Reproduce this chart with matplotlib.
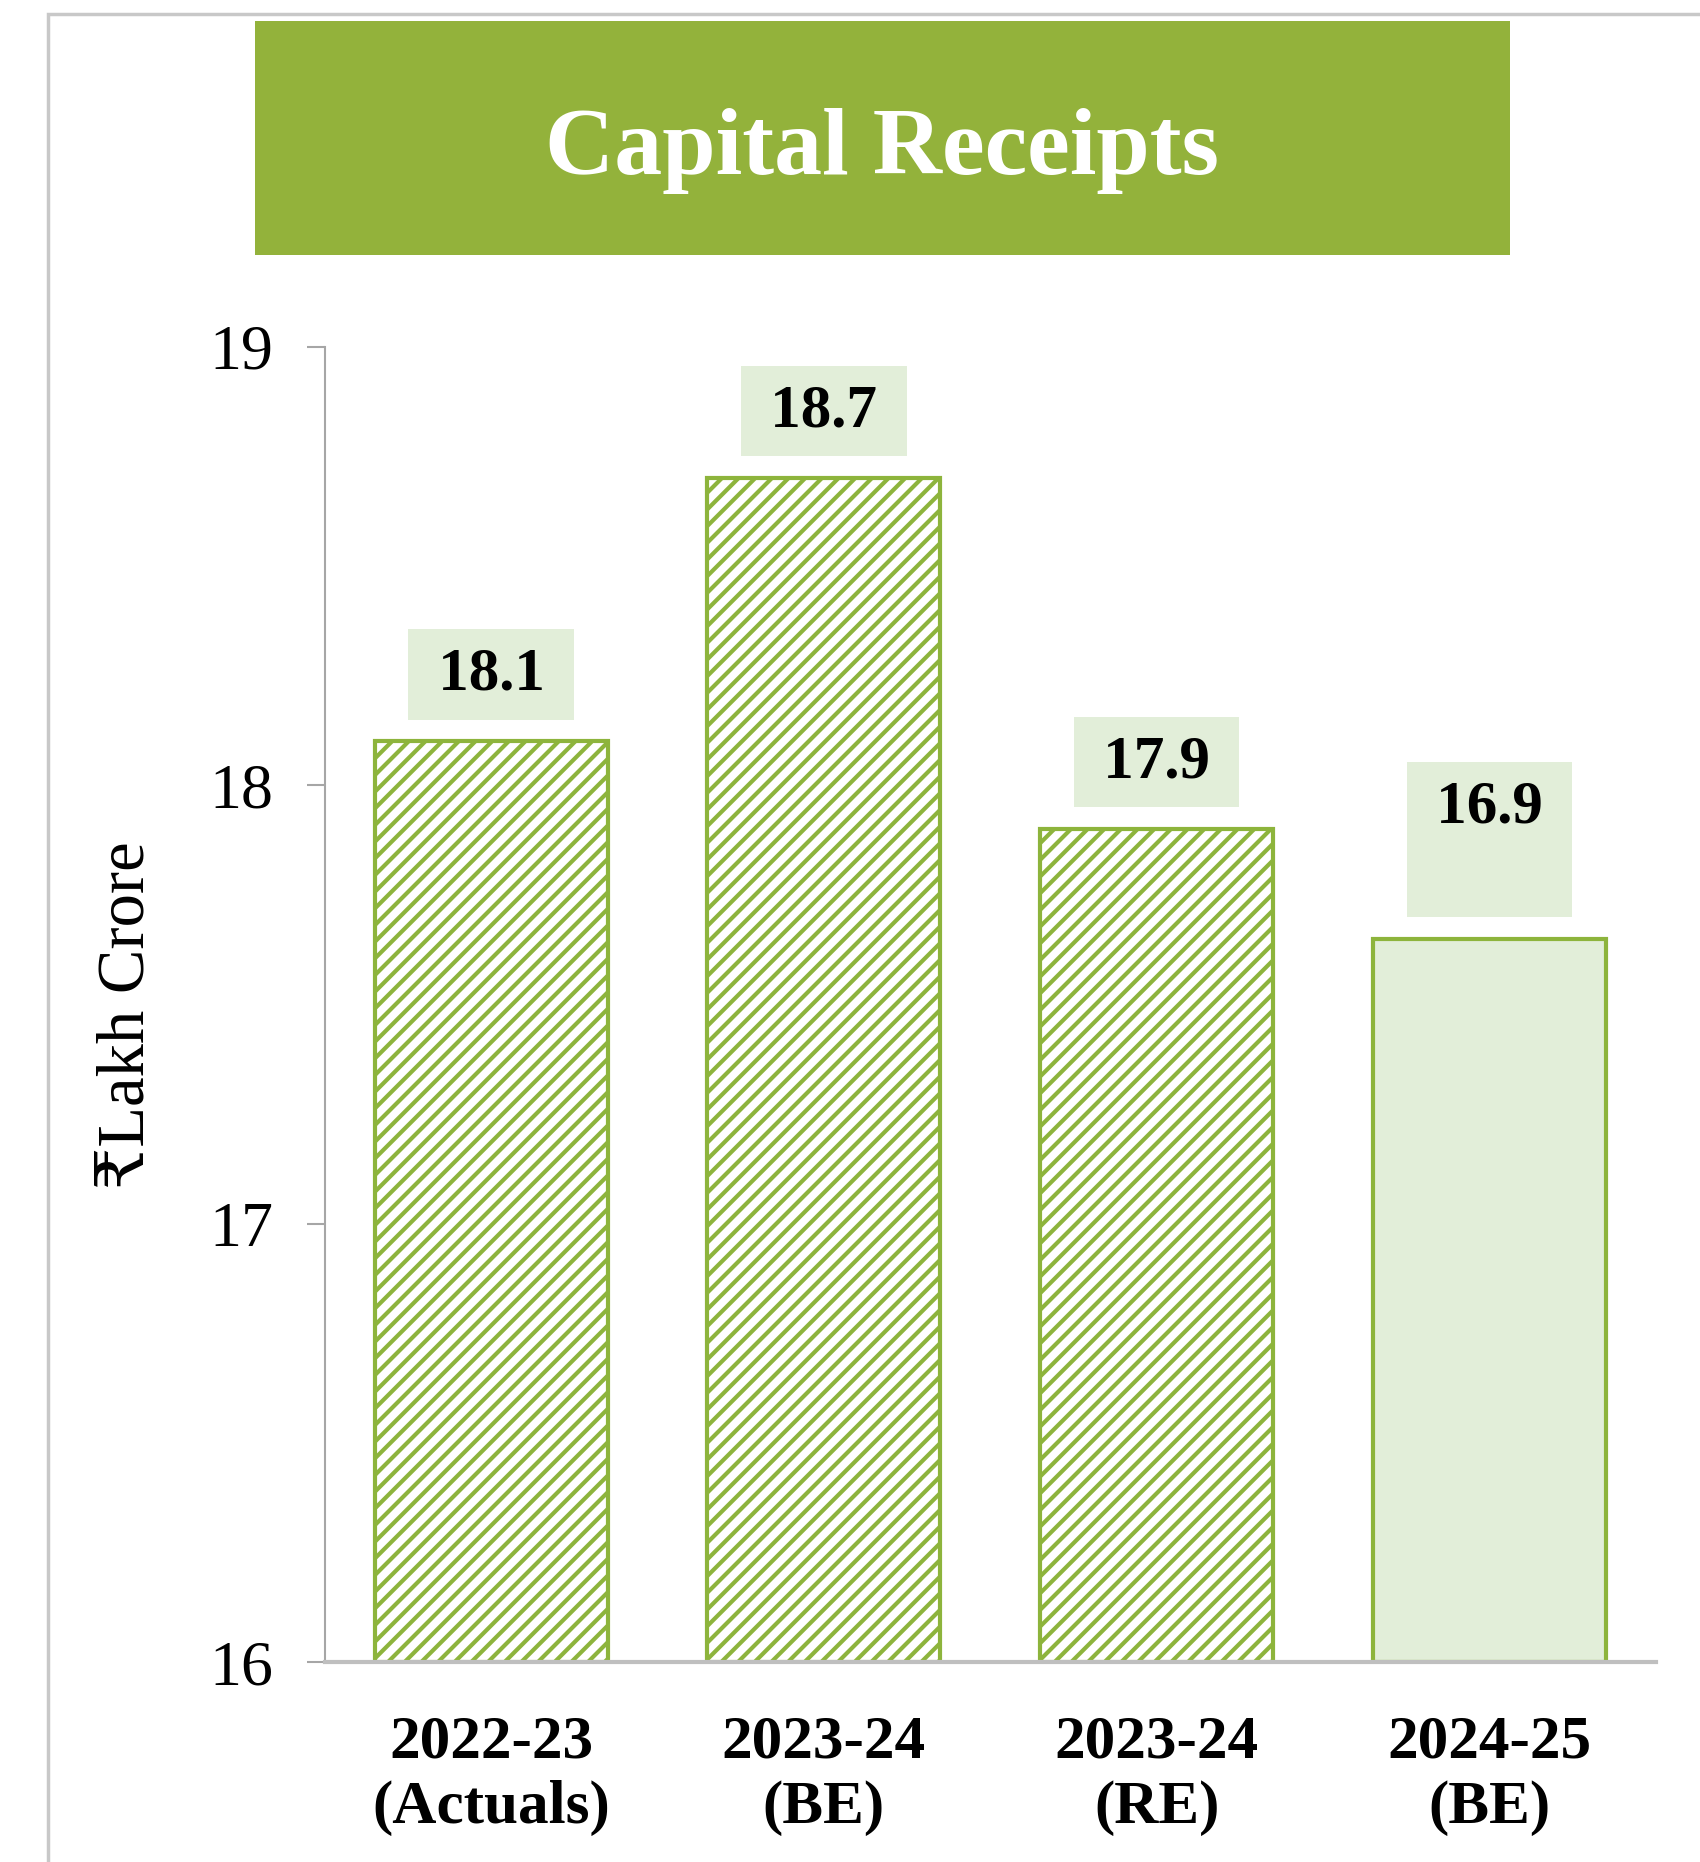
import matplotlib
matplotlib.use('Agg')
import matplotlib.pyplot as plt
from matplotlib.patches import Rectangle

plt.rcParams['font.family'] = ['Liberation Serif', 'DejaVu Serif', 'DejaVu Sans']
plt.rcParams['hatch.color'] = '#8DB43C'
plt.rcParams['hatch.linewidth'] = 3.0

# data
categories = ['2022-23\n(Actuals)', '2023-24\n(BE)', '2023-24\n(RE)', '2024-25\n(BE)']
# bar heights as drawn (last bar sits at ~17.65 although its label says 16.9)
bar_heights = [18.1, 18.7, 17.9, 17.65]
value_labels = ['18.1', '18.7', '17.9', '16.9']
hatched = [True, True, True, False]
y_ticks = [16, 17, 18, 19]

green = '#8DB43C'
banner_green = '#93B23B'
light_green = '#E2EED9'

fig = plt.figure(figsize=(17, 18.62), dpi=100)

# outer frame
fig.patches.append(Rectangle((0.028, -0.01), 1.0, 1.0025, transform=fig.transFigure,
                             fill=False, edgecolor='#C8C8C8', linewidth=2.5))

# title banner
fig.patches.append(Rectangle((0.15, 0.863), 0.738, 0.1257, transform=fig.transFigure,
                             facecolor=banner_green, edgecolor='none'))
fig.text(0.519, 0.919, 'Capital Receipts', ha='center', va='center',
         fontsize=69, fontweight='bold', color='white')

ax = fig.add_axes([0.191, 0.1074, 0.783, 0.7064])
x = range(len(categories))
for i in x:
    ax.bar(i, bar_heights[i] - 16, bottom=16, width=0.7,
           facecolor='white' if hatched[i] else light_green,
           edgecolor=green, linewidth=3,
           hatch='//' if hatched[i] else None, zorder=2)
    txt = '\u2009' + value_labels[i] + '\u2009'
    if not hatched[i]:
        txt = txt + '\n '
    ax.annotate(txt, xy=(i, bar_heights[i]), xytext=(0, 28),
                textcoords='offset points', ha='center', va='bottom',
                fontsize=44, fontweight='bold', color='black',
                bbox=dict(boxstyle='square,pad=0.28', facecolor=light_green, edgecolor='none'))

ax.set_xlim(-0.5, 3.5)
ax.set_ylim(16, 19)
ax.set_yticks(y_ticks)
ax.set_yticklabels([str(t) for t in y_ticks], fontsize=46)
ax.set_xticks(list(x))
ax.set_xticklabels(categories, fontsize=44, fontweight='bold', linespacing=1.22)

ax.tick_params(axis='y', length=13, width=1.5, color='#A6A6A6', pad=24)
ax.tick_params(axis='x', length=0, pad=38)
ax.spines['top'].set_visible(False)
ax.spines['right'].set_visible(False)
ax.spines['left'].set_color('#A6A6A6')
ax.spines['left'].set_linewidth(1.5)
ax.spines['bottom'].set_color('#BFBFBF')
ax.spines['bottom'].set_linewidth(3)

fig.text(0.075, 0.455, '₹Lakh Crore', rotation=90, ha='center', va='center', fontsize=48)

plt.savefig('out.png', dpi=100)
plt.close()
